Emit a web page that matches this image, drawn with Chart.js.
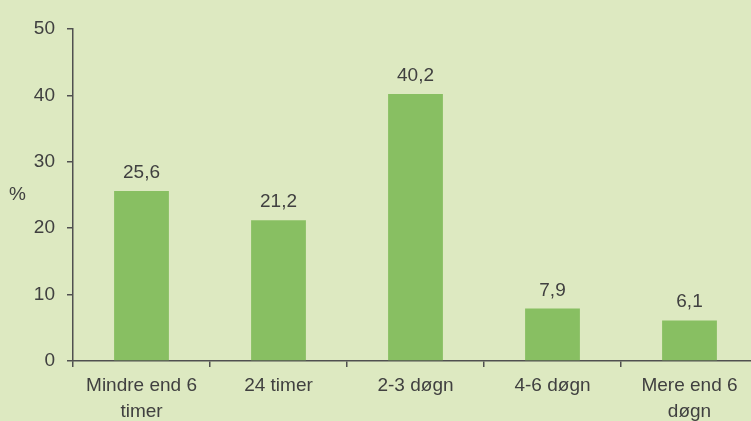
<!DOCTYPE html>
<html>
<head>
    <title>Indlæggelsestid</title>
    <script src="https://cdn.jsdelivr.net/npm/chart.js@4"></script>
    <style>
        html, body {
            margin: 0;
            padding: 0;
            overflow: hidden;
            background: #dde9c1;
        }
        #wrap {
            width: 760px;
            height: 421px;
        }
    </style>
</head>
<body>
    <div id="wrap"><canvas id="myChart"></canvas></div>

    <script>
        const labels = [['Mindre end 6', 'timer'], '24 timer', '2-3 døgn', '4-6 døgn', ['Mere end 6', 'døgn']];
        const values = [25.6, 21.2, 40.2, 7.9, 6.1];
        const yTicks = [0, 10, 20, 30, 40, 50];

        const textColor = '#404040';
        const axisColor = '#505050';
        const fontFamily = '"Liberation Sans", Arial, sans-serif';

        // værdier over søjlerne + "%" ved y-aksen
        const labelPlugin = {
            id: 'labelPlugin',
            afterDatasetsDraw(chart) {
                const ctx = chart.ctx;
                const meta = chart.getDatasetMeta(0);
                ctx.save();
                ctx.font = '19px ' + fontFamily;
                ctx.fillStyle = textColor;
                ctx.textAlign = 'center';
                ctx.textBaseline = 'alphabetic';
                meta.data.forEach((bar, i) => {
                    ctx.fillText(values[i].toFixed(1).replace('.', ','), bar.x, bar.y - 13);
                });
                ctx.textAlign = 'left';
                ctx.textBaseline = 'middle';
                ctx.fillText('%', 9, chart.scales.y.getPixelForValue(25));
                ctx.restore();
            }
        };

        const ctx = document.getElementById('myChart').getContext('2d');
        new Chart(ctx, {
            type: 'bar',
            data: {
                labels: labels,
                datasets: [{
                    data: values,
                    backgroundColor: '#88bf62',
                    barPercentage: 0.4,
                    categoryPercentage: 1.0
                }]
            },
            options: {
                responsive: true,
                maintainAspectRatio: false,
                animation: false,
                layout: {
                    padding: { top: 29, right: 2, left: 0, bottom: 0 }
                },
                plugins: {
                    legend: { display: false },
                    tooltip: { enabled: false }
                },
                scales: {
                    x: {
                        grid: {
                            display: true,
                            drawOnChartArea: false,
                            drawTicks: true,
                            tickLength: 6,
                            color: axisColor,
                            lineWidth: 1.5
                        },
                        border: { display: true, color: axisColor, width: 1.5 },
                        ticks: {
                            color: textColor,
                            font: { family: fontFamily, size: 19, lineHeight: 1.35 },
                            maxRotation: 0,
                            padding: 6
                        },
                        afterFit: (scale) => { scale.height = 60; }
                    },
                    y: {
                        min: 0,
                        max: 50,
                        afterBuildTicks: (scale) => {
                            scale.ticks = yTicks.map(v => ({ value: v }));
                        },
                        grid: {
                            display: true,
                            drawOnChartArea: false,
                            drawTicks: true,
                            tickLength: 6,
                            color: axisColor,
                            lineWidth: 1.5
                        },
                        border: { display: true, color: axisColor, width: 1.5 },
                        ticks: {
                            color: textColor,
                            font: { family: fontFamily, size: 19 },
                            padding: 12
                        },
                        afterFit: (scale) => { scale.width = 73; }
                    }
                }
            },
            plugins: [labelPlugin]
        });
    </script>
</body>
</html>
